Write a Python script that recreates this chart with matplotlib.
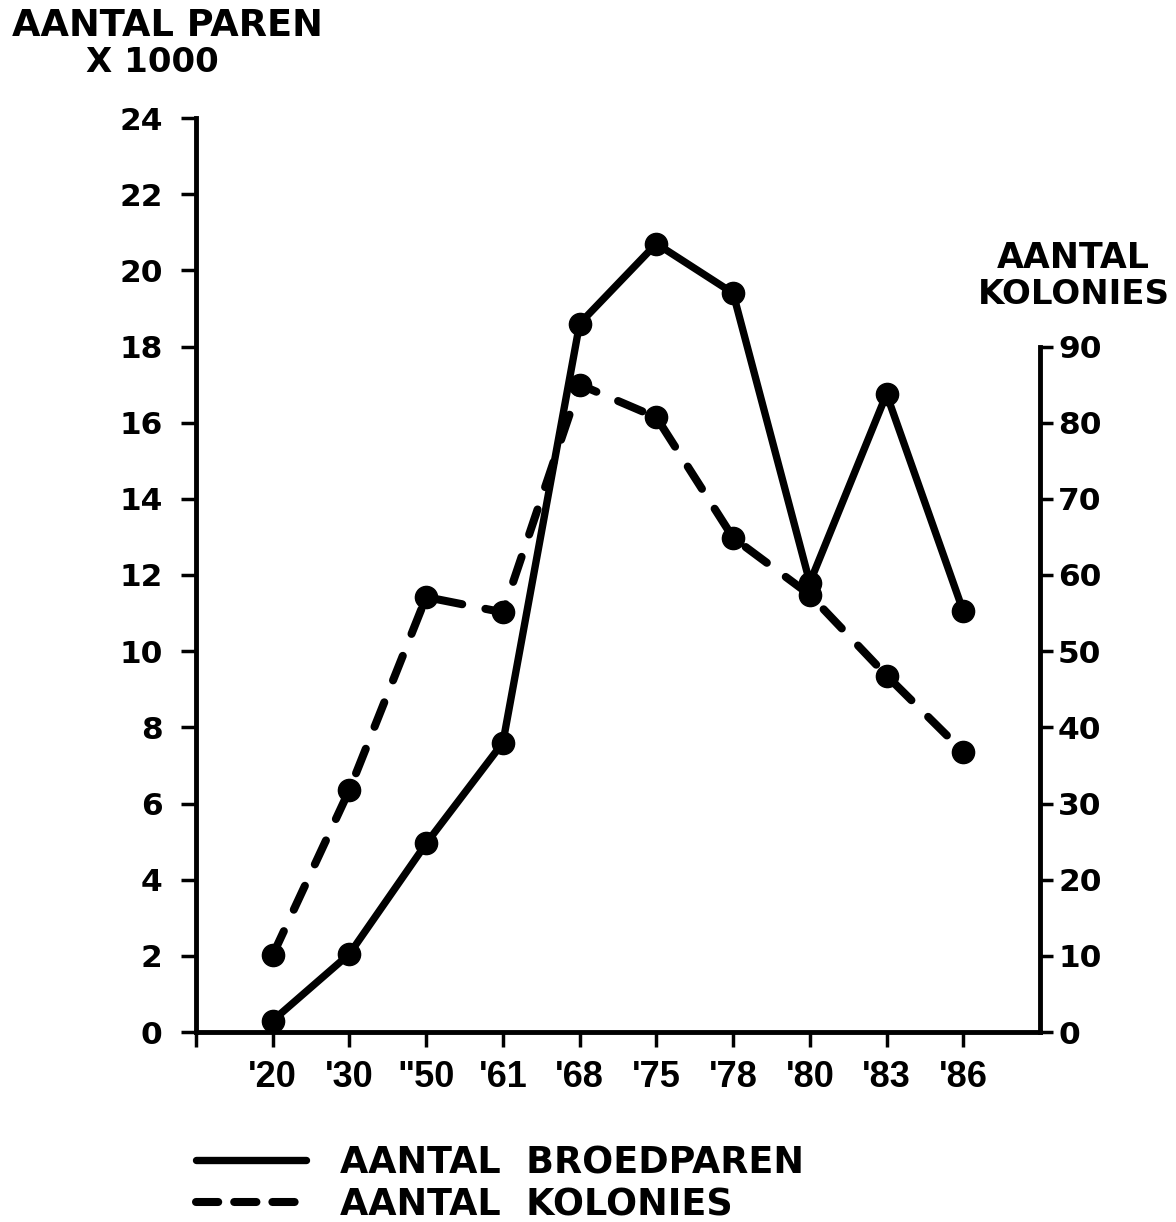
import matplotlib
matplotlib.use("Agg")
import matplotlib.pyplot as plt
from matplotlib.lines import Line2D

# ---- data ----
years = ["'20", "'30", '"50', "'61", "'68", "'75", "'78", "'80", "'83", "'86"]
broedparen_x1000 = [0.3, 2.05, 4.95, 7.6, 18.6, 20.7, 19.4, 11.8, 16.75, 11.05]
kolonies = [10.1, 31.8, 57.1, 55.1, 85.0, 80.7, 64.9, 57.4, 46.8, 36.8]
left_ticks = list(range(0, 25, 2))
right_ticks = list(range(0, 91, 10))

plt.rcParams['lines.scale_dashes'] = False
BOLD = dict(family=['DejaVu Sans'], weight='bold')

fig = plt.figure(figsize=(11.76, 12.22), dpi=100)
ax = fig.add_axes([196/1176, 190/1222, (1040-196)/1176, (1032-118)/1222])
ax2 = ax.twinx()

xs = list(range(len(years)))

ln_solid, = ax.plot(xs, broedparen_x1000, color='black', lw=5.3, marker='o',
                    markersize=16, solid_capstyle='round', solid_joinstyle='round',
                    clip_on=False, zorder=3)
ln_dash, = ax2.plot(xs, kolonies, color='black', lw=5.8, marker='o',
                    markersize=16, dashes=(19, 17), dash_capstyle='round',
                    clip_on=False, zorder=3)

ax.set_xlim(-1, 10)
ax.set_ylim(0, 24)
ax2.set_ylim(0, 120)

for a in (ax, ax2):
    a.spines['top'].set_visible(False)
    a.patch.set_visible(False)
ax.spines['right'].set_visible(False)
ax2.spines['left'].set_visible(False)
ax2.spines['bottom'].set_visible(False)
ax.spines['left'].set_bounds(0, 24)
ax2.spines['right'].set_bounds(0, 90)
for s in (ax.spines['left'], ax.spines['bottom'], ax2.spines['right']):
    s.set_linewidth(3.5)
    s.set_capstyle('projecting')

ax.set_yticks(left_ticks)
ax.set_yticklabels([str(t) for t in left_ticks], fontsize=22.5, **BOLD)
ax.tick_params(axis='y', direction='out', length=11, width=2.5, pad=13)
ax2.set_yticks(right_ticks)
ax2.set_yticklabels([str(t) for t in right_ticks], fontsize=22.5, **BOLD)
ax2.tick_params(axis='y', direction='out', length=9, width=2.5, pad=4)

ax.set_xticks([-1] + xs)
ax.set_xticklabels([''] + years, fontsize=26,
                   family=['Liberation Sans'], weight='bold')
ax.tick_params(axis='x', direction='out', length=11, width=2.5, pad=9)

# axis titles
fig.text(167/1176, 1 - 26/1222, 'AANTAL PAREN', ha='center', va='center', fontsize=26.5, **BOLD)
fig.text(152/1176, 1 - 62/1222, 'X 1000', ha='center', va='center', fontsize=24.5, **BOLD)
fig.text(1073/1176, 1 - 258/1222, 'AANTAL', ha='center', va='center', fontsize=25, **BOLD)
fig.text(1074/1176, 1 - 295/1222, 'KOLONIES', ha='center', va='center', fontsize=24.5, **BOLD)

# legend (no markers, as in the reference)
h1 = Line2D([], [], color='black', lw=5.3, solid_capstyle='round')
h2 = Line2D([], [], color='black', lw=5.8, dashes=(16, 11.5), dash_capstyle='round')
leg = fig.legend([h1, h2], ['AANTAL  BROEDPAREN', 'AANTAL  KOLONIES'],
                 loc='upper left', bbox_to_anchor=(196/1176, 1 - 1144/1222),
                 frameon=False, handlelength=3.0, handletextpad=0.95,
                 labelspacing=0.14, borderpad=0, borderaxespad=0,
                 prop=dict(family='DejaVu Sans', weight='bold', size=26.3))

fig.savefig('out.png', dpi=100)
